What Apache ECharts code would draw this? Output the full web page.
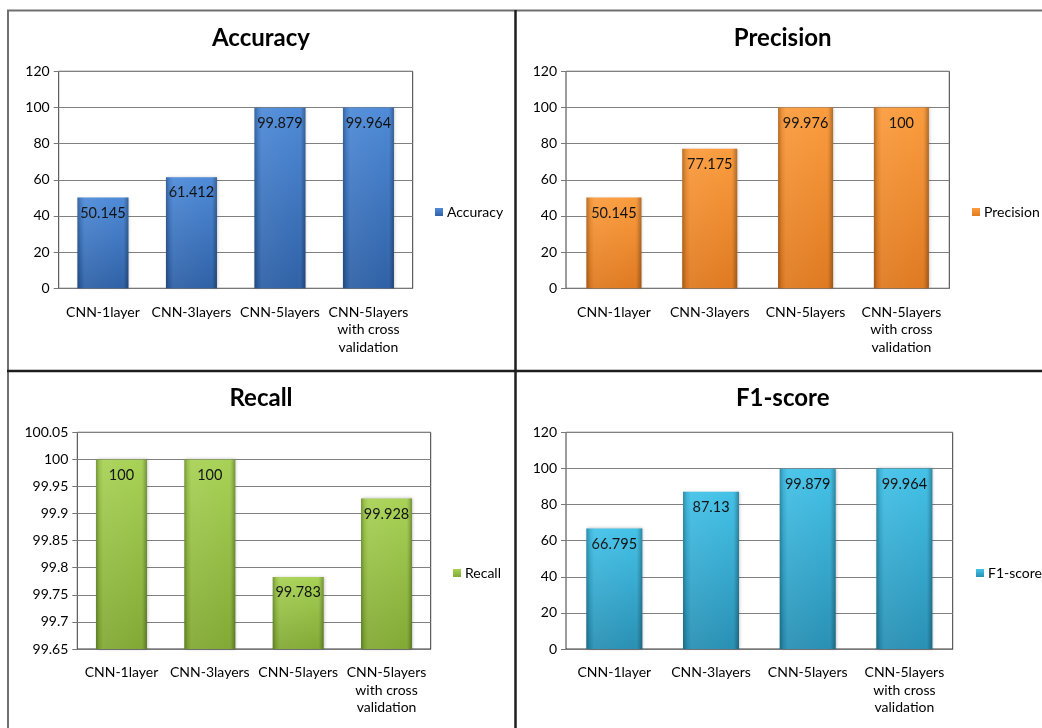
<!DOCTYPE html>
<html>
<head>
<meta charset="utf-8">
<title>CNN evaluation metrics</title>
<script src="https://cdn.jsdelivr.net/npm/echarts@6/dist/echarts.min.js"></script>
<style>
  html, body { margin: 0; padding: 0; background: #ffffff; }
  #chart { width: 1042px; height: 728px; }
</style>
</head>
<body>
<div id="chart"></div>
<script>
// Model variants on the category axis
const categories = ['CNN-1layer', 'CNN-3layers', 'CNN-5layers', 'CNN-5layers\nwith cross\nvalidation'];

// Metric values per model
const accuracy  = [50.145, 61.412, 99.879, 99.964];
const precision = [50.145, 77.175, 99.976, 100];
const recall    = [100, 100, 99.783, 99.928];
const f1score   = [66.795, 87.13, 99.879, 99.964];

// Value axis ranges
const pctAxis    = { min: 0, max: 120, interval: 20 };
const recallAxis = { min: 99.65, max: 100.05, interval: 0.05 };

const FONT = 'Lato, "Open Sans", sans-serif';

// Panel layout: plot rectangle, title centre, legend anchor, bar width
const panels = [
  { name: 'Accuracy',  data: accuracy,  axis: pctAxis,    top: '#4f8bd8', bottom: '#2f61a6',
    grid: { left: 58.7, top: 71.3, width: 354, height: 217 }, titleX: 261, titleY: 26,
    legend: { left: 435, top: 205 }, barWidth: 51 },
  { name: 'Precision', data: precision, axis: pctAxis,    top: '#fb9c3e', bottom: '#df7a21',
    grid: { left: 566, top: 71.3, width: 383.3, height: 217 }, titleX: 782.7, titleY: 26,
    legend: { left: 972, top: 205 }, barWidth: 55 },
  { name: 'Recall',    data: recall,    axis: recallAxis, top: '#a8d256', bottom: '#82a935',
    grid: { left: 77.3, top: 432.3, width: 353.4, height: 216.7 }, titleX: 261, titleY: 386,
    legend: { left: 453, top: 566 }, barWidth: 51 },
  { name: 'F1-score',  data: f1score,   axis: pctAxis,    top: '#44c2e8', bottom: '#2990b4',
    grid: { left: 566, top: 432.3, width: 386.7, height: 216.7 }, titleX: 782.7, titleY: 386,
    legend: { left: 976, top: 566 }, barWidth: 56 }
];

function axisLabelFmt(v) {
  return String(parseFloat(v.toFixed(2)));
}

const option = {
  backgroundColor: '#ffffff',
  animation: false,
  textStyle: { fontFamily: FONT },
  title: panels.map(p => ({
    text: p.name,
    left: p.titleX,
    top: p.titleY,
    textAlign: 'center',
    padding: 0,
    textStyle: { fontFamily: FONT, fontSize: 24, fontWeight: 'bold', color: '#000000' }
  })),
  legend: panels.map(p => ({
    data: [p.name],
    left: p.legend.left,
    top: p.legend.top,
    orient: 'vertical',
    padding: 0,
    itemWidth: 8,
    itemHeight: 8,
    itemGap: 4,
    icon: 'rect',
    selectedMode: false,
    textStyle: { fontFamily: FONT, fontSize: 14, color: '#000000', padding: [0, 0, 0, -1] }
  })),
  grid: panels.map(p => ({
    left: p.grid.left, top: p.grid.top, width: p.grid.width, height: p.grid.height,
    show: true, borderColor: '#3a3a3a', borderWidth: 1, backgroundColor: 'transparent'
  })),
  xAxis: panels.map((p, i) => ({
    type: 'category',
    gridIndex: i,
    data: categories,
    axisLine: { show: true, lineStyle: { color: '#777777', width: 1 } },
    axisTick: { show: false },
    axisLabel: { fontFamily: FONT, fontSize: 14, color: '#000000', margin: 15, lineHeight: 17.5, interval: 0 }
  })),
  yAxis: panels.map((p, i) => ({
    type: 'value',
    gridIndex: i,
    min: p.axis.min,
    max: p.axis.max,
    interval: p.axis.interval,
    axisLine: { show: false },
    axisTick: { show: true, length: 5, lineStyle: { color: '#777777' } },
    splitLine: { show: true, lineStyle: { color: '#808080', width: 1 } },
    axisLabel: { fontFamily: FONT, fontSize: 14, color: '#000000', margin: 9, formatter: axisLabelFmt }
  })),
  series: []
};

panels.forEach((p, i) => {
  // main bar with a light-to-dark vertical fill
  option.series.push({
    type: 'bar',
    name: p.name,
    xAxisIndex: i,
    yAxisIndex: i,
    data: p.data,
    barWidth: p.barWidth,
    itemStyle: {
      color: new echarts.graphic.LinearGradient(0, 0, 0, 1, [
        { offset: 0, color: p.top },
        { offset: 1, color: p.bottom }
      ]),
      shadowColor: 'rgba(0,0,0,0.25)',
      shadowBlur: 3,
      shadowOffsetX: 1,
      shadowOffsetY: 0
    },
    label: {
      show: true,
      position: 'insideTop',
      distance: 8,
      fontFamily: FONT,
      fontSize: 14.5,
      color: '#0d0d0d'
    },
    z: 2
  });
  // bevel shading on the bar edges
  option.series.push({
    type: 'bar',
    name: p.name + ' edge',
    xAxisIndex: i,
    yAxisIndex: i,
    data: p.data,
    barWidth: p.barWidth,
    barGap: '-100%',
    silent: true,
    itemStyle: {
      color: new echarts.graphic.LinearGradient(0, 0, 1, 0, [
        { offset: 0, color: 'rgba(0,0,0,0.28)' },
        { offset: 0.07, color: 'rgba(0,0,0,0.06)' },
        { offset: 0.14, color: 'rgba(255,255,255,0.06)' },
        { offset: 0.86, color: 'rgba(255,255,255,0.0)' },
        { offset: 0.93, color: 'rgba(0,0,0,0.08)' },
        { offset: 1, color: 'rgba(0,0,0,0.30)' }
      ])
    },
    label: { show: false },
    z: 3
  });
});

// panel frames
option.graphic = [
  { type: 'line', shape: { x1: 7, y1: 10.5, x2: 1042, y2: 10.5 }, style: { stroke: '#707070', lineWidth: 2 }, z: 10 },
  { type: 'line', shape: { x1: 8, y1: 10, x2: 8, y2: 728 }, style: { stroke: '#707070', lineWidth: 2 }, z: 10 },
  { type: 'line', shape: { x1: 515.5, y1: 10, x2: 515.5, y2: 728 }, style: { stroke: '#1e1e1e', lineWidth: 2.5 }, z: 10 },
  { type: 'line', shape: { x1: 7, y1: 371, x2: 1042, y2: 371 }, style: { stroke: '#1e1e1e', lineWidth: 2.5 }, z: 10 }
];

const chart = echarts.init(document.getElementById('chart'), null, { renderer: 'canvas' });
chart.setOption(option);
</script>
</body>
</html>
